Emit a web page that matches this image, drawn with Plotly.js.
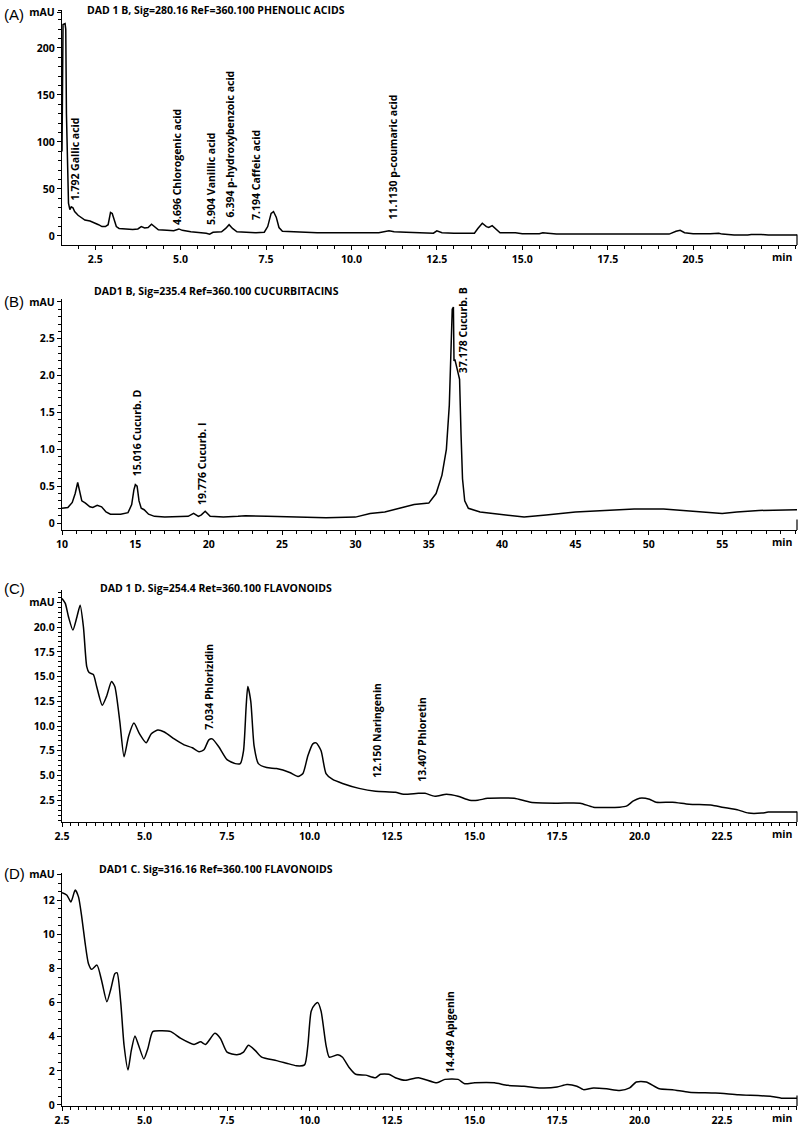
<!DOCTYPE html>
<html><head><meta charset="utf-8">
<script src="https://cdn.plot.ly/plotly-3.0.1.min.js"></script>
<style>html,body{margin:0;padding:0;background:#fff}#chart{width:800px;height:1128px}</style>
</head><body><div id="chart"></div>
<script>
// ---- Panel A: phenolic acids (280 nm) ----
const timeA = [1.53,1.56,1.62,1.64,1.66,1.69,1.72,1.76,1.8,1.85,1.9,2.0,2.1,2.2,2.35,2.5,2.6,2.7,2.8,2.88,2.95,3.0,3.05,3.12,3.2,3.4,3.6,3.75,3.85,3.95,4.05,4.15,4.25,4.35,4.6,4.8,4.95,5.05,5.3,5.6,5.75,5.85,5.95,6.2,6.32,6.42,6.52,6.65,6.9,7.2,7.45,7.55,7.65,7.72,7.8,7.88,7.98,8.3,8.6,9.0,10.0,10.8,11.1,11.25,11.6,11.9,12.0,12.4,12.5,12.65,13.0,13.6,13.7,13.83,13.95,14.02,14.12,14.25,14.35,14.8,15.0,15.5,15.6,15.75,16.0,18.0,19.3,19.5,19.62,19.75,20.0,20.5,20.75,20.85,21.2,21.6,21.7,22.0,22.2,23.04];
const mauA  = [90,225,226,220,130,60,35,28,31,30,26,22,19,17,16,14,12,10,10,12,25,24,17,10,8,7.5,7,7.5,10,8.5,9,12.5,9,6.5,6,5.5,7.5,6,4.5,4,3,2,4,4.5,8,12,8,4.5,4,3.5,4,10,24,26,20,9,5,4.5,4,3.5,3.5,3.5,5.5,4.5,4,3.5,3,3,5.5,3.5,3,3,8,13.5,10,9,11,7,3.5,3.5,2.5,2.5,3.5,3,2,2,2,5,6,3.5,2.5,2.5,3,2,1,1,1.5,1.5,1,1];
const labelsA = ["1.792 Gallic acid","4.696 Chlorogenic acid","5.904 Vanillic acid","6.394 p-hydroxybenzoic acid","7.194 Caffeic acid","11.1130 p-coumaric acid"];
const labelXA = [1.91,4.90,5.89,6.45,7.21,11.22];
const labelYA = [36,9.6,9.6,17,15,15];
const tickValsXA = [2.5,5,7.5,10,12.5,15,17.5,20];
const tickTextXA = ["2.5","5.0","7.5","10.0","12.5","15.0","17.5","20.5"];
const tickValsYA = [0,50,100,150,200,238];
const tickTextYA = ["0","50","100","150","200","mAU"];

// ---- Panel B: cucurbitacins (235 nm) ----
const timeB = [10,10.4,10.7,10.9,11.07,11.2,11.35,11.6,11.9,12.1,12.4,12.7,13.0,13.3,14.0,14.5,14.75,14.9,15.0,15.12,15.25,15.4,15.6,15.9,16.3,17,18,18.6,18.97,19.3,19.5,19.76,20.1,21,22,22.5,24,25,26,28,30,31,32,33,34,35,35.5,35.9,36.2,36.4,36.5,36.6,36.68,36.72,36.78,36.9,37.05,37.1,37.2,37.3,37.45,37.7,38.5,40,41.5,43,45,47,49,51,52.5,54,55,56,57.5,60.1];
const mauB  = [0.2,0.21,0.28,0.4,0.55,0.42,0.3,0.27,0.22,0.21,0.24,0.22,0.15,0.12,0.12,0.14,0.25,0.45,0.52,0.5,0.3,0.2,0.18,0.12,0.09,0.08,0.08,0.09,0.13,0.09,0.11,0.16,0.09,0.08,0.09,0.1,0.09,0.09,0.08,0.07,0.08,0.13,0.15,0.2,0.25,0.27,0.4,0.65,1.0,1.6,2.2,2.9,2.93,2.2,2.22,2.1,2.0,1.95,1.2,0.6,0.3,0.2,0.15,0.11,0.08,0.11,0.15,0.17,0.19,0.19,0.17,0.15,0.13,0.15,0.17,0.18];
const labelsB = ["15.016 Cucurb. D","19.776 Cucurb. I","37.178 Cucurb. B"];
const labelXB = [15.1,19.55,37.3];
const labelYB = [0.61,0.22,2.0];
const tickValsXB = [10,15,20,25,30,35,40,45,50,55];
const tickTextXB = ["10","15","20","25","30","35","40","45","50","55"];
const tickValsYB = [0,0.5,1.0,1.5,2.0,2.5,3.0];
const tickTextYB = ["0","0.5","1.0","1.5","2.0","2.5","mAU"];

// ---- Panel C: flavonoids (254 nm) ----
const timeC = [2.5,2.6,2.7,2.83,2.95,3.05,3.15,3.25,3.32,3.45,3.55,3.72,3.85,4.0,4.1,4.25,4.38,4.52,4.68,4.85,5.05,5.2,5.4,5.6,5.9,6.2,6.45,6.65,6.8,6.95,7.05,7.25,7.5,7.75,7.9,8.0,8.08,8.13,8.22,8.32,8.45,8.7,9.0,9.4,9.65,9.8,9.95,10.1,10.2,10.35,10.5,10.7,11.0,11.5,12.0,12.6,12.85,13.3,13.5,13.8,14.15,14.5,14.85,15.1,15.4,16.2,16.7,17.5,18.2,18.6,19.4,19.6,19.8,20.0,20.3,20.5,21.0,21.5,22.2,22.5,23.0,23.3,23.7,23.9,24.77];
const mauC  = [22.9,22.4,21,19.7,21,22.2,20,16,15.4,15.2,14,12.1,13,14.5,14,10.5,6.9,9,10.3,9.2,8.3,9.2,9.6,9.4,8.7,8.1,7.8,7.4,7.6,8.6,8.7,7.9,6.6,6.2,6.2,7.5,12,14,12.5,8,6.2,5.8,5.7,5.3,4.9,5.2,7,8.2,8.3,7.5,5.2,4.6,4.2,3.7,3.4,3.3,3.1,3.2,3.2,2.9,3.1,2.9,2.5,2.5,2.7,2.7,2.3,2.2,2.2,1.8,1.8,1.9,2.4,2.7,2.6,2.3,2.3,2.1,2.0,1.8,1.5,1.2,1.2,1.3,1.3];
const labelsC = ["7.034 Phlorizidin","12.150 Naringenin","13.407 Phloretin"];
const labelXC = [6.95,12.05,13.4];
const labelYC = [9.4,4.55,4.2];
const tickValsXC = [2.5,5,7.5,10,12.5,15,17.5,20,22.5];
const tickTextXC = ["2.5","5.0","7.5","10.0","12.5","15.0","17.5","20.0","22.5"];
const tickValsYC = [2.5,5,7.5,10,12.5,15,17.5,20,22.5];
const tickTextYC = ["2.5","5.0","7.5","10.0","12.5","15.0","17.5","20.0","mAU"];

// ---- Panel D: flavonoids (316 nm) ----
const timeD = [2.5,2.65,2.77,2.9,3.0,3.1,3.2,3.3,3.4,3.56,3.7,3.86,3.98,4.1,4.17,4.28,4.38,4.5,4.6,4.71,4.82,4.98,5.1,5.25,5.5,5.8,6.1,6.5,6.7,6.85,7.13,7.3,7.5,7.8,8.0,8.15,8.35,8.55,9.0,9.3,9.6,9.85,9.95,10.05,10.17,10.25,10.35,10.5,10.6,10.86,11.0,11.2,11.4,11.7,12.0,12.15,12.4,12.6,12.9,13.3,13.86,14.1,14.5,14.7,15.0,15.6,16.0,16.5,17.0,17.5,17.8,18.1,18.3,18.6,19.0,19.4,19.7,19.9,20.2,20.6,21.0,21.5,22.3,23.0,24.0,24.3,24.77];
const mauD  = [12.45,12.3,11.9,12.6,12.2,11,9.5,8.3,7.95,8.2,7.3,6.05,6.8,7.7,7.75,6,3.5,2.05,3.2,4.05,3.5,2.7,3.3,4.3,4.35,4.3,3.9,3.55,3.7,3.55,4.2,3.9,3.1,2.95,3.1,3.5,3.2,2.8,2.6,2.45,2.3,2.35,3.5,5.5,5.9,6.0,5.5,3.5,2.8,2.95,2.8,2.2,1.8,1.75,1.6,1.8,1.8,1.6,1.45,1.6,1.3,1.5,1.5,1.25,1.3,1.3,1.15,1.1,1.0,1.05,1.2,1.1,0.9,1.0,0.95,0.85,1.0,1.35,1.35,0.95,0.9,0.75,0.7,0.6,0.5,0.4,0.4];
const labelsD = ["14.449 Apigenin"];
const labelXD = [14.26];
const labelYD = [1.76];
const tickValsXD = tickValsXC;
const tickTextXD = tickTextXC;
const tickValsYD = [0,2,4,6,8,10,12,13.5];
const tickTextYD = ["0","2","4","6","8","10","12","mAU"];

const titles = ["DAD 1 B, Sig=280.16 ReF=360.100 PHENOLIC ACIDS","DAD1 B, Sig=235.4 Ref=360.100 CUCURBITACINS","DAD 1 D. Sig=254.4 Ret=360.100 FLAVONOIDS","DAD1 C. Sig=316.16 Ref=360.100 FLAVONOIDS"];
const panelLetters = ["(A)","(B)","(C)","(D)"];

// ---- layout geometry (pixels) ----
const W = 800, H = 1128;
const plotLeft = 62, plotRight = 797;
const panels = [
  {t: timeA, v: mauA, shape:'linear', top:10, bottom:245, xr:[1.53,23.04], yr:[-9.6,240.4], tvx:tickValsXA, ttx:tickTextXA, tvy:tickValsYA, tty:tickTextYA, xminor:0.5, yminor:10, labs:labelsA, lx:labelXA, ly:labelYA, titleY:10, letterY:14},
  {t: timeB, v: mauB, shape:'linear', top:299, bottom:530, xr:[10,60.1], yr:[-0.095,3.04], tvx:tickValsXB, ttx:tickTextXB, tvy:tickValsYB, tty:tickTextYB, xminor:1, yminor:0.1, labs:labelsB, lx:labelXB, ly:labelYB, titleY:291, letterY:302},
  {t: timeC, v: mauC, shape:'spline', top:590, bottom:822, xr:[2.5,24.77], yr:[0.3,23.75], tvx:tickValsXC, ttx:tickTextXC, tvy:tickValsYC, tty:tickTextYC, xminor:0.25, yminor:0.5, labs:labelsC, lx:labelXC, ly:labelYC, titleY:588, letterY:588},
  {t: timeD, v: mauD, shape:'spline', top:873, bottom:1106, xr:[2.5,24.77], yr:[-0.06,13.6], tvx:tickValsXD, ttx:tickTextXD, tvy:tickValsYD, tty:tickTextYD, xminor:0.25, yminor:0.5, labs:labelsD, lx:labelXD, ly:labelYD, titleY:869, letterY:873}
];

const FONT = "Open Sans, DejaVu Sans, sans-serif";
const data = [];
const layout = {
  width: W, height: H, margin:{l:0,r:0,t:0,b:0},
  paper_bgcolor:'#fff', plot_bgcolor:'#fff', showlegend:false,
  annotations:[], shapes:[]
};

panels.forEach((p, i) => {
  const n = i === 0 ? '' : String(i+1);
  const xa = 'x'+n, ya = 'y'+n;
  data.push({x:p.t, y:p.v, xaxis:xa, yaxis:ya, type:'scatter', mode:'lines',
    line:{color:'#000', width:1.5, shape:p.shape, smoothing:0.6}, hoverinfo:'skip'});
  const common = {showgrid:false, zeroline:false, showline:true, linecolor:'#000', linewidth:1.2,
    ticks:'outside', ticklen:5, tickwidth:1, tickcolor:'#000',
    tickfont:{family:FONT, size:10.5, color:'#000', weight:'bold'}, fixedrange:true};
  layout['xaxis'+n] = Object.assign({}, common, {
    domain:[plotLeft/W, plotRight/W], anchor:ya, range:p.xr,
    tickmode:'array', tickvals:p.tvx, ticktext:p.ttx, ticklen:4,
    minor:{dtick:p.xminor, ticks:'outside', ticklen:2.5, tickcolor:'#000', tickwidth:1}
  });
  layout['yaxis'+n] = Object.assign({}, common, {
    domain:[1-p.bottom/H, 1-p.top/H], anchor:xa, range:p.yr,
    tickmode:'array', tickvals:p.tvy, ticktext:p.tty, ticklen:4,
    minor:{dtick:p.yminor, ticks:'outside', ticklen:2.5, tickcolor:'#000', tickwidth:1}
  });
  // title
  layout.annotations.push({text:titles[i], xref:'paper', yref:'paper', x:216/W, y:1-p.titleY/H,
    xanchor:'center', yanchor:'middle', showarrow:false,
    font:{family:FONT, size:10.5, color:'#000', weight:'bold'}});
  // panel letter
  layout.annotations.push({text:panelLetters[i], xref:'paper', yref:'paper', x:2/W, y:1-p.letterY/H,
    xanchor:'left', yanchor:'middle', showarrow:false,
    font:{family:'Liberation Sans, Arial, sans-serif', size:15, color:'#000'}});
  // "min" axis unit
  layout.annotations.push({text:'min', xref:xa+' domain', yref:ya+' domain', x:(782-plotLeft)/(plotRight-plotLeft), y:0,
    xanchor:'center', yanchor:'top', yshift:-3, showarrow:false,
    font:{family:FONT, size:10.5, color:'#000', weight:'bold'}});
  // peak labels
  p.labs.forEach((txt, k) => {
    layout.annotations.push({text:txt, xref:xa, yref:ya, x:p.lx[k], y:p.ly[k],
      textangle:-90, xanchor:'center', yanchor:'bottom', showarrow:false,
      font:{family:FONT, size:10.5, color:'#000', weight:'bold'}});
  });
  // short right frame edge
  layout.shapes.push({type:'line', xref:xa+' domain', yref:ya+' domain', x0:1, x1:1, y0:0, y1:0.045,
    line:{color:'#000', width:1.2}});
});

Plotly.newPlot('chart', data, layout, {staticPlot:true, displayModeBar:false});
</script></body></html>
